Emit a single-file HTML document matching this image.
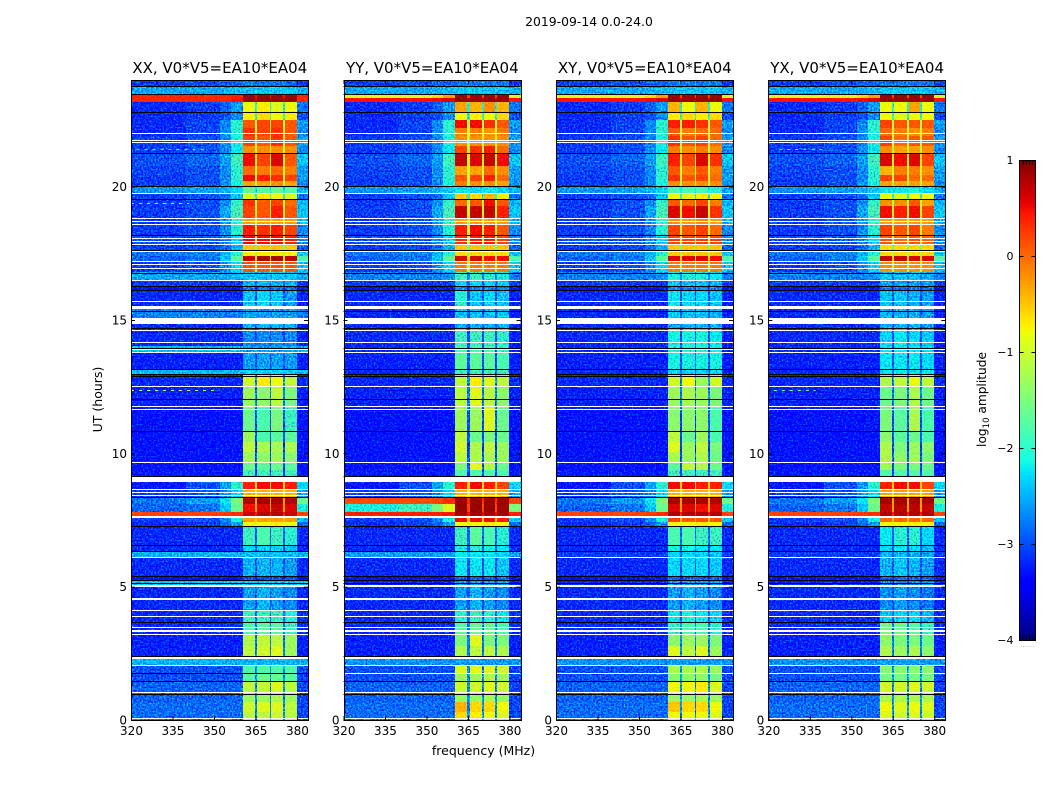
<!DOCTYPE html>
<html>
<head>
<meta charset="utf-8">
<title>2019-09-14 0.0-24.0</title>
<style>
html,body{margin:0;padding:0;background:#fff;}
svg{display:block;}
text{font-family:"DejaVu Sans","Liberation Sans",sans-serif;fill:#000;}
</style>
</head>
<body>
<svg id="figure" xmlns="http://www.w3.org/2000/svg" width="1050" height="800" viewBox="0 0 1050 800">
  <defs id="defs"></defs>
  <text x="589" y="26" text-anchor="middle" font-size="12.4">2019-09-14 0.0-24.0</text>
  <text x="0" y="0" transform="translate(102,399.5) rotate(-90)" text-anchor="middle" font-size="12.5">UT (hours)</text>
  <text x="483.5" y="755" text-anchor="middle" font-size="12.5">frequency (MHz)</text>
  <text x="0" y="0" transform="translate(986,399.5) rotate(-90)" text-anchor="middle" font-size="12.2">log<tspan font-size="8.5" dy="3">10</tspan><tspan dy="-3"> amplitude</tspan></text>
</svg>
<script>
// ---- data ----
const panelTitles = ['XX, V0*V5=EA10*EA04', 'YY, V0*V5=EA10*EA04', 'XY, V0*V5=EA10*EA04', 'YX, V0*V5=EA10*EA04'];
const freqTicks = [320, 335, 350, 365, 380];
const timeTicks = [0, 5, 10, 15, 20];
const colorTicks = [1, 0, -1, -2, -3, -4];
const colorTickLabels = ['1', '0', '\u22121', '\u22122', '\u22123', '\u22124'];

// frequency zone edges, MHz: bg, bgRight, ramp1, ramp2, band1, gap, band2, gap, band3, gap, band4, outOfBand
const freqEdgesMHz = [320, 340, 352, 356, 360.4, 364.8, 365.6, 370.2, 370.8, 374.9, 375.6, 380, 384];

// time span edges, UT hours (top of the plot first)
const timeEdgesUT = [24,23.775,23.475,23.325,23.175,22.8,22.5,22.2,21.9,21.525,21.26,20.775,20.44,20.21,20.03,19.76,19.54,19.275,18.825,18.6,18.15,17.81,17.625,17.4,17.175,16.8,16.5,16.275,16.125,15.525,15.075,14.7,14.025,13.8,13.16,12.94,12.49,11.7,10.84,10.425,10.05,9.675,9.375,9.11,8.625,8.36,8.1,7.8,7.575,7.425,7.275,6.56,6.34,6.11,5.4,5.25,5.025,4.125,3.675,3.225,2.775,2.325,2.025,1.76,1.46,0.975,0.675,0.3,0];

// log10 amplitude per time span: [bg, bgRight, ramp1, ramp2, gap, outOfBand]
const spectrumLevels = [
[-3.1,-3,-2.9,-2.9,-2.7,-3.1],[-2.55,-2.55,-2.5,-2.45,-2.3,-2.5],[-0.9,-0.9,-0.6,-0.3,0.2,-1],[0.45,0.45,0.5,0.6,0.8,0.45],
[-3.2,-3.1,-2.9,-2.6,-2,-2.8],[-3.2,-3.1,-3,-2.7,-2,-3],[-3.2,-3.05,-2.7,-2,-1.2,-2.6],[-3.2,-3.05,-2.7,-2,-1,-2.7],
[-3.1,-3,-2.7,-2.1,-1,-2.6],[-3.1,-3,-2.7,-2.2,-1.2,-2.7],[-3,-2.9,-2.6,-1.9,-0.9,-2.4],[-3.05,-3,-2.7,-2,-1,-2.6],
[-3.1,-3,-2.7,-2,-1,-2.6],[-3.1,-3,-2.7,-2.1,-1.2,-2.7],[-2.65,-2.6,-2.5,-2.35,-2.2,-2.5],[-3.1,-3,-2.85,-2.4,-2,-2.8],
[-3.1,-3,-2.7,-1.95,-1.2,-2.5],[-3.1,-3,-2.55,-1.85,-0.9,-2.4],[-3.1,-3,-2.6,-1.95,-1,-2.5],[-3.1,-3,-2.7,-2,-1,-2.7],
[-3,-2.95,-2.7,-2.3,-1.2,-2.7],[-3.1,-3.05,-2.85,-2.5,-1.6,-2.9],[-2.8,-2.75,-2.5,-2,-1.2,-2.4],[-2.9,-2.8,-2.4,-1.7,-0.6,-1.8],
[-3.1,-3,-2.7,-2.3,-1,-2.4],[-2.75,-2.75,-2.75,-2.65,-2.7,-2.75],[-3.1,-3.1,-3.1,-3.1,-2.9,-3.1],[-3.35,-3.35,-3.35,-3.35,-3.2,-3.35],
[-3.2,-3.2,-3.2,-3.2,-3,-3.25],[-3.2,-3.2,-3.2,-3.2,-3,-3.25],[-3.2,-3.2,-3.2,-3.2,-3,-3.25],[-3.2,-3.2,-3.2,-3.2,-3,-3.25],
[-3.2,-3.2,-3.2,-3.2,-3,-3.25],[-3.25,-3.25,-3.25,-3.25,-3,-3.25],[-3.2,-3.2,-3.2,-3.2,-2.9,-3.25],[-3.2,-3.2,-3.2,-3.2,-2.7,-3.2],
[-3.25,-3.25,-3.25,-3.25,-2.8,-3.25],[-3.35,-3.35,-3.35,-3.35,-3,-3.35],[-3.35,-3.35,-3.35,-3.35,-3,-3.35],[-3.35,-3.35,-3.35,-3.35,-3.1,-3.35],
[-3.35,-3.35,-3.35,-3.35,-3,-3.35],[-3.35,-3.35,-3.35,-3.35,-3,-3.35],[-3.3,-3.3,-3.3,-3.3,-3.1,-3.3],[-3.3,-3,-2.6,-2,-0.6,-2.3],
[-3.1,-2.95,-2.7,-2.3,-0.8,-2.6],[-2.8,-2.6,-2.2,-1.5,-0.3,-1.6],[-2.9,-2.8,-2.4,-1.6,-0.3,-2.1],[0.2,0.2,0.25,0.3,0.4,0.2],
[-3.1,-3,-2.7,-2.1,-0.5,-2.4],[-3.2,-3.1,-2.9,-2.6,-0.9,-2.9],[-3.2,-3.2,-3.2,-3.2,-2.9,-3.2],[-3.2,-3.2,-3.2,-3.2,-3,-3.2],
[-3.1,-3.1,-3.1,-3.1,-2.9,-3.1],[-3.2,-3.2,-3.2,-3.2,-3,-3.2],[-3.4,-3.4,-3.4,-3.4,-3.3,-3.4],[-3.25,-3.25,-3.25,-3.25,-3.1,-3.25],
[-3.2,-3.2,-3.2,-3.2,-3,-3.2],[-3.2,-3.2,-3.2,-3.2,-2.9,-3.2],[-3.2,-3.2,-3.2,-3.2,-2.8,-3.2],[-3.25,-3.25,-3.25,-3.25,-2.8,-3.25],
[-3.25,-3.25,-3.25,-3.25,-2.8,-3.25],[-2.65,-2.65,-2.65,-2.65,-2.65,-2.65],[-3,-3,-3,-3,-2.7,-3.05],[-3,-3,-3,-3,-2.7,-3.05],
[-2.9,-2.9,-2.9,-2.9,-2.7,-3.05],[-2.9,-2.9,-2.9,-2.9,-2.7,-3.05],[-2.85,-2.85,-2.85,-2.85,-2.7,-3.05],[-2.85,-2.85,-2.85,-2.85,-2.7,-3.05]
];

// time-span replacements of spectrumLevels for one polarisation
const spectrumOverridesXX = {2:[0.35,0.35,0.35,0.4,0.5,0.35],3:[0.35,0.35,0.35,0.45,0.7,0.35],25:[-2.55,-2.55,-2.55,-2.45,-2.4,-2.55],29:[-2.75,-2.75,-2.75,-2.75,-2.6,-2.75],32:[-2.45,-2.45,-2.45,-2.45,-2.45,-2.45],34:[-2.45,-2.45,-2.45,-2.45,-2.4,-2.45],52:[-2.5,-2.5,-2.5,-2.5,-2.5,-2.5],55:[-2.4,-2.4,-2.4,-2.4,-2.4,-2.4],61:[-2.5,-2.5,-2.5,-2.5,-2.5,-2.5]};
const spectrumOverridesYY = {45:[0.15,0.15,0.2,0.3,0.3,0.2],46:[-2.1,-1.9,-1.5,-0.9,0.2,-1.5],47:[0.4,0.4,0.4,0.45,0.5,0.4],52:[-2.6,-2.6,-2.6,-2.6,-2.5,-2.6]};
const spectrumOverridesXY = {};
const spectrumOverridesYX = {};

// log10 amplitude of the four receiver sub-bands, per time span
const bandLevelsXX = [
[-2.8,-2.8,-2.8,-2.9],[-2.4,-2.4,-2.4,-2.4],[0.9,0.9,0.9,0.9],[0.9,0.9,0.9,0.9],[-0.8,-0.7,-0.9,-0.8],[-0.7,-0.6,-0.8,-0.7],[0.1,0.2,0.2,0.1],[0.3,0.2,0.3,0.1],
[0.2,0.1,0.3,0.1],[-0.2,-0.2,-0.2,-0.2],[0.5,0.2,0.6,0.1],[0,-0.1,0,-0.1],[0.5,0.4,0.3,0.2],[-0.3,-0.3,-0.2,-0.3],[-1.7,-1.7,-1.6,-1.7],[-0.9,-0.7,-0.8,-0.9],
[0.3,0.1,0.2,0],[0.2,0.1,0.4,0.1],[-0.3,-0.3,-0.3,-0.3],[0.4,0.3,0.4,0.2],[0.5,0.5,0.5,0.4],[-0.5,-0.5,-0.5,-0.5],[-0.7,-0.7,-0.7,-0.7],[0.7,0.8,0.8,0.7],
[0.1,0.1,0.1,0.1],[-2.4,-2.4,-2.4,-2.4],[-2.5,-2.5,-2.5,-2.5],[-2.8,-2.8,-2.8,-2.8],[-2.4,-2.3,-2.4,-2.6],[-2.6,-2.6,-2.6,-2.6],[-2.5,-2.5,-2.5,-2.5],[-2.7,-2.7,-2.7,-2.7],
[-2.6,-2.6,-2.6,-2.6],[-2.6,-2.6,-2.6,-2.6],[-2.3,-2.3,-2.3,-2.3],[-1,-0.7,-0.8,-1.1],[-1.3,-1.4,-1.1,-1.5],[-1.6,-1.8,-1.5,-1.9],[-1.3,-1.8,-1.7,-1.7],[-1.1,-1.2,-1.2,-1.2],
[-1.3,-1.4,-1.3,-1.4],[-1.6,-1.7,-1.6,-1.7],[-1.9,-1.9,-1.9,-1.9],[0.4,0.5,0.5,0.4],[-0.4,-0.4,-0.4,-0.4],[0.8,0.85,0.85,0.8],[0.5,0.6,0.7,0.6],[0.7,0.75,0.75,0.7],
[-0.3,-0.3,-0.3,-0.3],[-0.8,-0.8,-0.7,-0.8],[-1.9,-1.8,-1.9,-2],[-2.3,-2.3,-2.3,-2.4],[-2.45,-2.45,-2.45,-2.45],[-2.5,-2.5,-2.5,-2.6],[-3,-3,-3,-3],[-2.4,-2.4,-2.4,-2.4],
[-2.6,-2.5,-2.6,-2.7],[-1.9,-1.9,-1.9,-2],[-1.8,-1.7,-1.7,-1.9],[-1.2,-1.1,-1.1,-1.3],[-1.1,-1,-0.9,-1.3],[-2.5,-2.5,-2.5,-2.5],[-1.8,-1.8,-1.8,-1.8],[-1.7,-1.6,-1.6,-1.7],
[-1.1,-1.1,-0.9,-1.1],[-1.3,-1.3,-1.2,-1.3],[-1,-0.9,-0.9,-1.1],[-1.1,-1.1,-1,-1.1]
];
const bandLevelsYY = [
[-2.8,-2.8,-2.8,-2.8],[-2.4,-2.4,-2.4,-2.4],[0.9,0.9,0.9,0.9],[0.9,0.9,0.9,0.9],[-0.3,-0.4,-0.2,-0.4],[-0.8,-0.7,-0.8,-0.6],[0.5,0.5,0.3,0.1],[-0.1,-0.1,-0.2,-0.1],
[-0.2,-0.2,-0.2,-0.2],[0.2,0.3,0.4,0],[0.7,0.6,0.7,0.5],[-0.3,-0.3,0,-0.2],[0.1,0.2,0.4,0],[-0.1,-0.2,-0.2,-0.3],[-2.2,-2.3,-2.2,-2.3],[-0.5,-0.6,-0.4,-0.7],
[0,0.1,0.5,0.1],[0.7,0.7,0.7,0.4],[-0.3,-0.3,-0.3,-0.3],[0.4,0.5,0.4,0.1],[0.3,0.4,0.4,0.2],[-0.5,-0.5,-0.5,-0.5],[-0.6,-0.6,-0.6,-0.6],[0.6,0.6,0.5,0.5],
[-0.1,-0.1,-0.1,-0.1],[-1.9,-1.9,-2,-2.1],[-2.3,-2.3,-2.3,-2.4],[-2.7,-2.7,-2.7,-2.7],[-2,-2.4,-2.3,-2.4],[-2.4,-2.4,-2.4,-2.4],[-2.5,-2.5,-2.5,-2.5],[-1.9,-1.9,-1.9,-2],
[-1.8,-1.8,-1.8,-1.9],[-1.7,-1.7,-1.7,-1.8],[-1.9,-1.9,-1.9,-1.9],[-1.1,-0.7,-0.9,-1.1],[-1.1,-0.9,-1.1,-1.4],[-1.3,-1.3,-0.9,-1.6],[-1.1,-1.6,-1.5,-1.6],[-1,-1.2,-1.1,-1.3],
[-1.1,-1.2,-1.2,-1.3],[-1.5,-0.9,-1.2,-1.6],[-1.8,-1.8,-1.8,-1.8],[0.4,0.5,0.4,0.2],[-0.4,-0.4,-0.4,-0.4],[0.9,0.9,0.9,0.9],[0.9,0.9,0.9,0.85],[0.85,0.85,0.85,0.85],
[0.5,0.5,0.5,0.4],[-0.8,-0.8,-0.7,-0.8],[-1.9,-1.7,-1.8,-2],[-2.1,-2,-2.1,-2.2],[-2.2,-2.2,-2.2,-2.3],[-2.2,-2.2,-2.2,-2.4],[-2.9,-2.9,-2.9,-2.9],[-2.6,-2.6,-2.6,-2.6],
[-2.6,-2.5,-2.6,-2.7],[-2,-1.9,-2,-2.2],[-1.7,-1.6,-1.6,-1.8],[-1.5,-0.9,-1.5,-1.5],[-1.2,-1.1,-1.1,-1.2],[-2.6,-2.6,-2.6,-2.6],[-0.9,-0.9,-0.9,-1],[-1.3,-1.3,-1.2,-1.3],
[-1,-1,-0.9,-1],[-1.3,-1.3,-1.2,-1.3],[-0.4,-0.6,-0.6,-0.8],[-0.6,-0.7,-0.8,-0.9]
];
const bandLevelsXY = [
[-2.8,-2.8,-2.8,-2.8],[-2.4,-2.4,-2.4,-2.4],[0.9,0.9,0.9,0.9],[0.9,0.9,0.9,0.9],[-0.4,-0.8,-0.4,-0.8],[-0.7,-0.6,-0.7,-0.6],[0.4,0.4,0.3,0.1],[0.1,-0.1,0,0],
[0.3,0.1,0.2,0],[-0.1,-0.2,-0.1,-0.2],[0.4,0.2,0.6,0.3],[0.1,-0.1,0.1,-0.1],[0.3,0.1,0.2,0],[-0.2,-0.2,-0.2,-0.2],[-1.8,-1.8,-1.8,-2],[-0.8,-0.9,-0.7,-0.8],
[0.1,0,0.2,-0.1],[0.6,0.5,0.7,0.3],[-0.2,-0.3,-0.2,-0.3],[0.2,0.1,0.2,0],[0.2,0.2,0.2,0.2],[-0.5,-0.5,-0.5,-0.5],[-0.5,-0.5,-0.5,-0.5],[0.6,0.6,0.6,0.5],
[-0.1,-0.1,-0.1,-0.1],[-2.1,-2.1,-2.1,-2.2],[-2.4,-2.4,-2.4,-2.5],[-2.7,-2.7,-2.7,-2.7],[-2.2,-2.3,-2.3,-2.4],[-2.4,-2.4,-2.4,-2.5],[-2.5,-2.5,-2.5,-2.5],[-2.1,-2.1,-2.1,-2.2],
[-2,-2,-2,-2.1],[-2.1,-2.1,-2.1,-2.1],[-2.3,-2.3,-2.3,-2.3],[-1,-0.8,-1.3,-1],[-1.3,-1.2,-1.3,-1.5],[-1.4,-1.4,-1.4,-1.8],[-1.1,-1.6,-1.3,-1.8],[-0.9,-1.3,-1.1,-1.5],
[-1.2,-1.3,-1.2,-1.6],[-1.7,-1.1,-1.2,-1.6],[-1.9,-1.9,-1.9,-1.9],[0.5,0.5,0.4,0.4],[-0.4,-0.4,-0.4,-0.4],[0.85,0.85,0.85,0.8],[0.6,0.6,0.5,0.6],[0.8,0.8,0.8,0.8],
[0.2,0.1,0.1,0.1],[-0.8,-0.8,-0.7,-0.8],[-1.8,-1.8,-1.9,-1.9],[-2.1,-2.1,-2.2,-2.2],[-2.3,-2.3,-2.3,-2.4],[-2.3,-2.3,-2.3,-2.4],[-2.9,-2.9,-2.9,-2.9],[-2.6,-2.6,-2.6,-2.6],
[-2.6,-2.5,-2.6,-2.7],[-2.2,-2.1,-2.2,-2.3],[-1.9,-1.8,-1.8,-2],[-1.4,-1.3,-1.3,-1.5],[-0.9,-1.1,-0.9,-1.3],[-2.6,-2.6,-2.6,-2.6],[-1.2,-1.2,-1.2,-1.3],[-1.4,-1.4,-1.4,-1.5],
[-0.8,-0.8,-0.7,-0.9],[-1.3,-1.3,-1.2,-1.3],[-0.5,-0.6,-0.6,-0.8],[-0.8,-0.8,-0.8,-0.9]
];
const bandLevelsYX = [
[-2.8,-2.8,-2.8,-2.8],[-2.4,-2.4,-2.4,-2.4],[0.9,0.9,0.9,0.9],[0.9,0.9,0.9,0.9],[-0.8,-0.8,-0.3,-0.8],[-0.8,-0.9,-0.8,-0.8],[0.2,0.1,0.1,0.1],[0,-0.1,-0.2,-0.1],
[0.2,0,0.1,0.1],[-0.2,-0.3,-0.3,-0.2],[0.6,0.5,0.6,0.2],[-0.4,-0.1,-0.1,-0.2],[0.2,0.2,0,0],[-0.3,-0.3,-0.3,-0.3],[-2.2,-2.2,-2.1,-2.3],[-0.8,-0.9,-0.8,-0.8],
[-0.2,-0.2,0.1,-0.3],[0.5,0.4,0.5,0.2],[-0.3,-0.3,-0.3,-0.3],[0.2,0.1,0.2,-0.1],[0.1,0,0.1,0],[-0.6,-0.6,-0.6,-0.6],[-0.6,-0.6,-0.6,-0.6],[0.7,0.7,0.6,0.6],
[-0.2,-0.2,-0.2,-0.2],[-2.4,-2.4,-2.4,-2.5],[-2.6,-2.6,-2.6,-2.6],[-2.8,-2.8,-2.8,-2.8],[-2.4,-2.4,-2.5,-2.6],[-2.5,-2.5,-2.5,-2.6],[-2.5,-2.5,-2.5,-2.6],[-2.3,-2.2,-2.3,-2.4],
[-2.2,-2.2,-2.2,-2.3],[-2.2,-2.2,-2.2,-2.3],[-2.2,-2.2,-2.2,-2.2],[-1.2,-1.1,-0.8,-1.1],[-1.6,-1.5,-1.2,-1.6],[-1.5,-1.7,-1.2,-1.8],[-1.4,-1.7,-1.6,-1.8],[-1.2,-1.5,-1.3,-1.4],
[-1.2,-1.4,-1.3,-1.5],[-1.3,-1.5,-1.5,-1.6],[-1.8,-1.8,-1.8,-1.8],[0.4,0.5,0.5,0.2],[-0.3,-0.3,-0.3,-0.3],[0.85,0.85,0.85,0.85],[0.7,0.75,0.75,0.7],[0.8,0.8,0.8,0.8],
[0,0,0,0],[-0.8,-0.8,-0.7,-0.8],[-2.2,-2,-2,-2.3],[-2.3,-2.2,-2.3,-2.4],[-2.5,-2.5,-2.5,-2.6],[-2.5,-2.4,-2.5,-2.6],[-2.9,-2.9,-2.9,-2.9],[-2.7,-2.7,-2.7,-2.7],
[-2.7,-2.6,-2.7,-2.8],[-2.4,-2.3,-2.3,-2.5],[-1.5,-1.6,-1.7,-1.9],[-1.4,-1.5,-1.5,-1.6],[-1.2,-1.3,-1.2,-1.4],[-2.6,-2.6,-2.6,-2.6],[-1.4,-1.4,-1.4,-1.4],[-1.5,-1.5,-1.5,-1.5],
[-1,-1,-0.9,-1],[-1.2,-1.2,-1.2,-1.2],[-0.8,-0.9,-0.8,-0.9],[-0.9,-1,-0.9,-1]
];

// flagged (blank) times, UT hours
const thinFlagCentersUT = [22,21.75,21.675,19.75,18.81,18.71,18.6,18.075,17.96,17.86,17.59,17.21,17.1,16.95,16.5,15.7,15.35,14.625,14.16,13.92,13.79,12.51,11.775,11.67,9.66,8.65,8.56,8.43,4.135,3.9,3.475,3.225,2.05,1.06,0.09];
const thickFlagStartsUT = [15.525,15.075,9.11,7.65,6.13,5.06,4.575,3.39,2.36];
const thickFlagEndsUT = [15.41,14.85,8.925,7.59,6.075,5,4.5,3.31,2.29];
const thinFlagCentersNotXX = [1.75];
const blackLinesUT = [23.79,23.46,22.79,21.25,20.01,19.53,18.18,17.625,16.78,16.29,16.125,15.34,14.7,13.96,13.16,12.98,12.91,12.04,10.83,9.15,8.37,7.275,6.55,6.33,5.4,5.25,5.14,3.675,2.4,1.45,0.96];
const blackLinesXXOnly = [1.75];

// narrow interference streaks: panel index, UT, start MHz, end MHz, level
const streakPanels = [0, 0, 0, 3, 3];
const streakTimesUT = [12.37, 21.4, 19.4, 12.37, 21.4];
const streakStartsMHz = [320, 322, 320, 322, 324];
const streakEndsMHz = [352, 348, 341, 337, 340];
const streakLevels = [-1.1, -2, -1.6, -1.5, -2];

// ---- layout ----
const SVGNS = 'http://www.w3.org/2000/svg';
const svg = document.getElementById('figure');
const defs = document.getElementById('defs');
const plotTop = 80, plotHeight = 640, plotWidth = 177;
const panelLefts = [131, 343.5, 556, 768.3];
const panelKeys = ['xx', 'yy', 'xy', 'yx'];
const bandTables = [bandLevelsXX, bandLevelsYY, bandLevelsXY, bandLevelsYX];
const overrideTables = [spectrumOverridesXX, spectrumOverridesYY, spectrumOverridesXY, spectrumOverridesYX];
const utMax = 24, fMin = 320, fMax = 384;
const levelMin = -4, levelMax = 1;

function yOfUT(ut) { return plotTop + plotHeight * (1 - ut / utMax); }
function xOfFreq(left, f) { return left + (f - fMin) / (fMax - fMin) * plotWidth; }
function ramp(v, pts) {
  for (let i = 1; i < pts.length; i++) {
    if (v <= pts[i][0]) {
      const a = pts[i - 1], b = pts[i];
      return a[1] + (b[1] - a[1]) * (v - a[0]) / (b[0] - a[0]);
    }
  }
  return pts[pts.length - 1][1];
}
function jet(level) {
  const v = Math.max(0, Math.min(1, (level - levelMin) / (levelMax - levelMin)));
  const r = ramp(v, [[0, 0], [0.35, 0], [0.66, 1], [0.89, 1], [1, 0.5]]);
  const g = ramp(v, [[0, 0], [0.125, 0], [0.375, 1], [0.64, 1], [0.91, 0], [1, 0]]);
  const b = ramp(v, [[0, 0.5], [0.11, 1], [0.34, 1], [0.65, 0], [1, 0]]);
  return 'rgb(' + Math.round(r * 255) + ',' + Math.round(g * 255) + ',' + Math.round(b * 255) + ')';
}
function node(tag, parent, attrs) {
  const el = document.createElementNS(SVGNS, tag);
  for (const k in attrs) el.setAttribute(k, attrs[k]);
  parent.appendChild(el);
  return el;
}
// texture only: a fine-grained tint over the cells, varying the green channel, kept inside the cells
function grainFilter(id, seed, left, gain) {
  const f = node('filter', defs, {id: id, filterUnits: 'userSpaceOnUse', x: left - 1, y: plotTop - 1, width: plotWidth + 2, height: plotHeight + 2, 'color-interpolation-filters': 'sRGB'});
  node('feTurbulence', f, {type: 'fractalNoise', baseFrequency: '0.62', numOctaves: 1, seed: seed, result: 'n'});
  node('feColorMatrix', f, {in: 'n', type: 'matrix', values: '0 0 0 0 0.5  1 0 0 0 0  0 0 0 0 0.5  0 0 0 0 1', result: 'c'});
  node('feComposite', f, {in: 'SourceGraphic', in2: 'c', operator: 'arithmetic', k1: 0, k2: 1, k3: gain, k4: -gain / 2, result: 'mixed'});
  node('feComposite', f, {in: 'mixed', in2: 'SourceGraphic', operator: 'in'});
}

panelLefts.forEach(function (left, p) {
  const panel = node('g', svg, {});
  
  

  grainFilter('grain-strong-' + p, 3 + p * 7, left, 1.7);
  grainFilter('grain-mild-' + p, 11 + p * 5, left, 0.5);

  const bgLayer = node('g', panel, {filter: 'url(#grain-strong-' + p + ')', 'shape-rendering': 'crispEdges'});
  
  
  const bandLayer = node('g', panel, {filter: 'url(#grain-mild-' + p + ')', 'shape-rendering': 'crispEdges'});
  
  

  for (let r = 0; r < spectrumLevels.length; r++) {
    const s = overrideTables[p][r] || spectrumLevels[r];
    const b = bandTables[p][r];
    const zoneLevels = [s[0], s[1], s[2], s[3], b[0], s[4], b[1], s[4], b[2], s[4], b[3], s[5]];
    const y0 = Math.round(yOfUT(timeEdgesUT[r]));
    const y1 = Math.round(yOfUT(timeEdgesUT[r + 1]));
    for (let z = 0; z < zoneLevels.length; z++) {
      const x0 = Math.round(xOfFreq(left, freqEdgesMHz[z]));
      const x1 = Math.round(xOfFreq(left, freqEdgesMHz[z + 1]));
      const faint = zoneLevels[z] < -1.8;
      const cell = node('rect', faint ? bgLayer : bandLayer, {x: x0, y: y0, width: Math.max(x1 - x0, 1), height: y1 - y0, fill: jet(zoneLevels[z])});
      
      
    }
  }

  for (let i = 0; i < streakPanels.length; i++) {
    if (streakPanels[i] !== p) continue;
    const sy = Math.round(yOfUT(streakTimesUT[i])) + 0.5;
    const streak = node('line', panel, {x1: xOfFreq(left, streakStartsMHz[i]), x2: xOfFreq(left, streakEndsMHz[i]), y1: sy, y2: sy, stroke: jet(streakLevels[i]), 'stroke-width': 1, 'stroke-dasharray': '3 5'});
    
    
  }

  const thin = thinFlagCentersUT.concat(p === 0 ? [] : thinFlagCentersNotXX);
  thin.forEach(function (ut) {
    const line = node('rect', panel, {x: left, y: Math.round(yOfUT(ut)), width: plotWidth, height: 1, fill: '#fff', 'shape-rendering': 'crispEdges'});
    
    
  });
  thickFlagStartsUT.forEach(function (ut, i) {
    const y0 = Math.round(yOfUT(ut));
    const y1 = Math.round(yOfUT(thickFlagEndsUT[i]));
    const gap = node('rect', panel, {x: left, y: y0, width: plotWidth, height: Math.max(y1 - y0, 1), fill: '#fff', 'shape-rendering': 'crispEdges'});
    
    
  });
  const blacks = blackLinesUT.concat(p === 0 ? blackLinesXXOnly : []);
  blacks.forEach(function (ut) {
    const line = node('rect', panel, {x: left, y: Math.round(yOfUT(ut)), width: plotWidth, height: 1, fill: '#000', 'shape-rendering': 'crispEdges'});
    
    
  });

  const frame = node('rect', panel, {x: Math.round(left) + 0.5, y: plotTop + 0.5, width: plotWidth, height: plotHeight, fill: 'none', stroke: '#000', 'stroke-width': 1});
  
  

  freqTicks.forEach(function (f) {
    const x = xOfFreq(left, f) + 0.5;
    const tb = node('line', panel, {x1: x, x2: x, y1: plotTop + plotHeight, y2: plotTop + plotHeight - 4, stroke: '#000', 'stroke-width': 1});
    
    
    const tt = node('line', panel, {x1: x, x2: x, y1: plotTop, y2: plotTop + 4, stroke: '#000', 'stroke-width': 1});
    
    
    const lab = node('text', panel, {x: x, y: plotTop + plotHeight + 15, 'text-anchor': 'middle', 'font-size': 12});
    
    
    lab.textContent = String(f);
  });
  timeTicks.forEach(function (ut) {
    const y = yOfUT(ut) + 0.5;
    const tl = node('line', panel, {x1: left, x2: left + 4, y1: y, y2: y, stroke: '#000', 'stroke-width': 1});
    
    
    const tr = node('line', panel, {x1: left + plotWidth, x2: left + plotWidth - 4, y1: y, y2: y, stroke: '#000', 'stroke-width': 1});
    
    
    const lab = node('text', panel, {x: left - 4, y: y + 4, 'text-anchor': 'end', 'font-size': 12});
    
    
    lab.textContent = String(ut);
  });
  const title = node('text', panel, {x: left + plotWidth / 2 + 0.3, y: 73, 'text-anchor': 'middle', 'font-size': 15});
  
  
  title.textContent = panelTitles[p];
});

// ---- colour bar ----
const cbLeft = 1019.5, cbWidth = 16, cbTop = 160, cbHeight = 480;
function yOfLevel(level) { return cbTop + cbHeight * (levelMax - level) / (levelMax - levelMin); }
const colorbar = node('g', svg, {});


const cbRamp = node('g', colorbar, {'shape-rendering': 'crispEdges'});


for (let py = 0; py < cbHeight; py += 2) {
  const lv = levelMax - (py + 1) / cbHeight * (levelMax - levelMin);
  const seg = node('rect', cbRamp, {x: cbLeft, y: cbTop + py, width: cbWidth, height: 2, fill: jet(lv)});
  
  
}
const cbFrame = node('rect', colorbar, {x: cbLeft, y: cbTop + 0.5, width: cbWidth, height: cbHeight, fill: 'none', stroke: '#000', 'stroke-width': 1});


colorTicks.forEach(function (lv, i) {
  const y = yOfLevel(lv) + 0.5;
  const tl = node('line', colorbar, {x1: cbLeft, x2: cbLeft + 4, y1: y, y2: y, stroke: '#000', 'stroke-width': 1});
  
  
  const tr = node('line', colorbar, {x1: cbLeft + cbWidth, x2: cbLeft + cbWidth - 4, y1: y, y2: y, stroke: '#000', 'stroke-width': 1});
  
  
  const lab = node('text', colorbar, {x: cbLeft - 6, y: y + 3.5, 'text-anchor': 'end', 'font-size': 11});
  
  
  lab.textContent = colorTickLabels[i];
});
[0.22, 0.42, 0.62, 0.82].forEach(function (frac) {
  const x = cbLeft + cbWidth * frac;
  const a = node('line', colorbar, {x1: x, x2: x, y1: cbTop, y2: cbTop + 5, stroke: '#000', 'stroke-width': 1});
  
  
  const b = node('line', colorbar, {x1: x, x2: x, y1: cbTop + cbHeight, y2: cbTop + cbHeight - 5, stroke: '#000', 'stroke-width': 1});
  
  
});
const dots = node('text', colorbar, {x: cbLeft + cbWidth / 2, y: 647, 'text-anchor': 'middle', 'font-size': 6, style: 'fill:#888;letter-spacing:0.6px'});


dots.textContent = '......';
</script>
</body>
</html>
